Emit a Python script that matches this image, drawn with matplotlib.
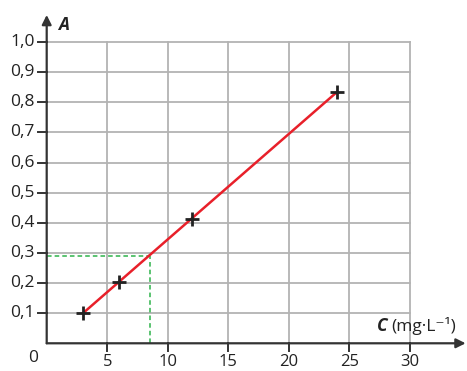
import matplotlib
matplotlib.use("Agg")
import matplotlib.pyplot as plt

conc = [3, 6, 12, 24]
absorb = [0.10, 0.205, 0.413, 0.835]
fit_x = [3, 24]
fit_y = [0.10, 0.835]
read_x = 8.5
read_y = 0.29
xticks = [5, 10, 15, 20, 25, 30]
yticks = [0.1, 0.2, 0.3, 0.4, 0.5, 0.6, 0.7, 0.8, 0.9, 1.0]

plt.rcParams['font.family'] = ['Open Sans', 'DejaVu Sans']
fig = plt.figure(figsize=(4.67, 3.71), dpi=100)
ax = fig.add_axes([0.1, 0.0747, 0.897, 0.885])
ax.set_xlim(0, 34.6)
ax.set_ylim(0, 1.09)
for s in ax.spines.values():
    s.set_visible(False)
ax.set_xticks([])
ax.set_yticks([])

gc = '#b3b3b3'
for xv in xticks:
    ax.plot([xv, xv], [0, 1.0], color=gc, lw=1.3, zorder=1)
for yv in yticks:
    ax.plot([0, 30], [yv, yv], color=gc, lw=1.3, zorder=1)

ac = '#333333'
ax.annotate('', xy=(34.6, 0), xytext=(0, 0),
            arrowprops=dict(arrowstyle='-|>', color=ac, lw=1.6, mutation_scale=14,
                            shrinkA=0, shrinkB=0), annotation_clip=False)
ax.annotate('', xy=(0, 1.09), xytext=(0, 0),
            arrowprops=dict(arrowstyle='-|>', color=ac, lw=1.6, mutation_scale=14,
                            shrinkA=0, shrinkB=0), annotation_clip=False)

# tick marks
for xv in xticks:
    ax.plot([xv, xv], [0, -0.025], color=ac, lw=1.4, clip_on=False, zorder=3)
    ax.text(xv, -0.037, str(xv), ha='center', va='top', fontsize=12, color='#222222')
for yv in yticks:
    ax.plot([0, -0.75], [yv, yv], color=ac, lw=1.4, clip_on=False, zorder=3)
    ax.text(-1.0, yv, f"{yv:.1f}".replace('.', ','), ha='right', va='center',
            fontsize=12.5, color='#222222')
ax.text(-0.7, -0.022, '0', ha='right', va='top', fontsize=12.5, color='#222222')

# reading lines
ax.plot([0, read_x], [read_y, read_y], color='#2db34a', lw=1.1, ls=(0, (3, 2)), zorder=2)
ax.plot([read_x, read_x], [0, read_y], color='#2db34a', lw=1.1, ls=(0, (3, 2)), zorder=2)

ax.plot(fit_x, fit_y, color='#e8202a', lw=1.8, zorder=3)
ax.plot(conc, absorb, ls='none', marker='+', ms=10, mew=2.0, color='#222222', zorder=4)

ax.text(0.95, 1.055, 'A', fontsize=12.5, fontweight='bold', fontstyle='italic',
        ha='left', va='center', color='#222222')
ax.text(27.3, 0.057, 'C', fontsize=12.5, fontweight='bold', fontstyle='italic',
        ha='left', va='center', color='#222222')
ax.text(28.5, 0.057, '(mg·L⁻¹)', fontsize=12.5, ha='left', va='center', color='#222222')

fig.savefig('out.png', dpi=100)
